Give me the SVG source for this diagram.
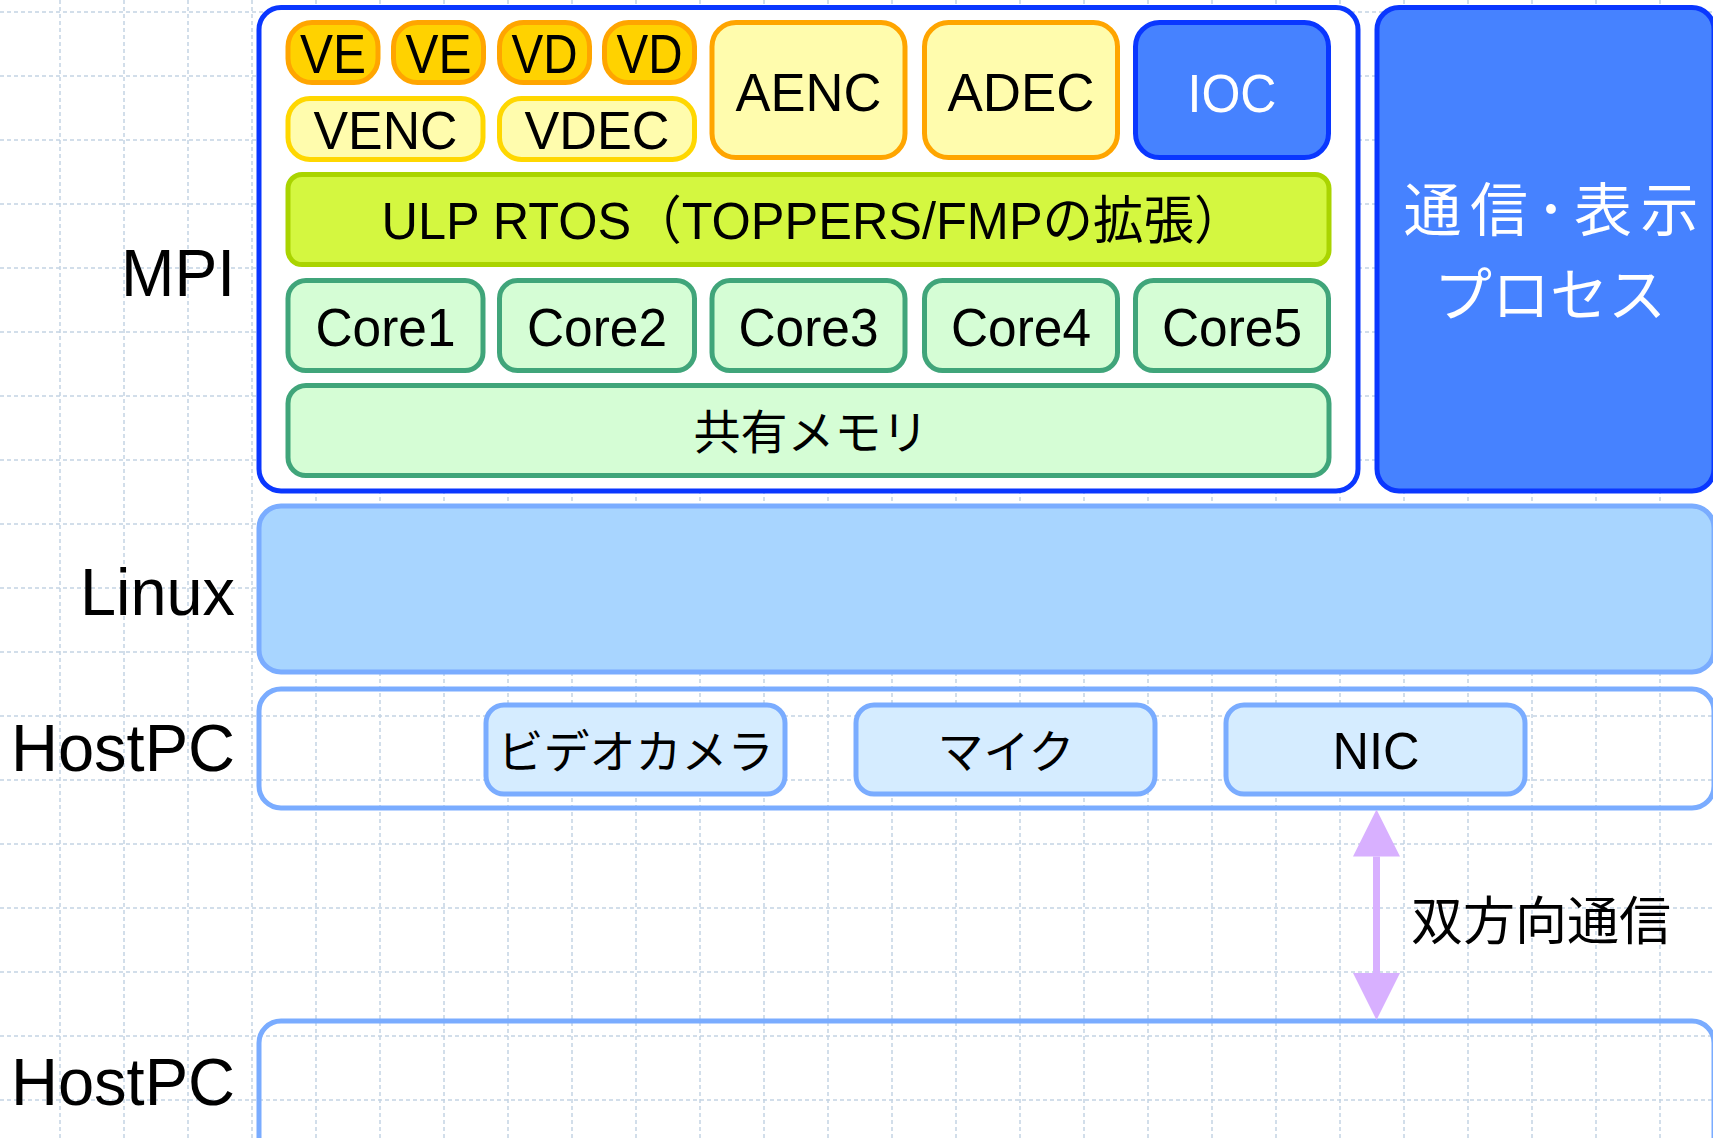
<svg xmlns="http://www.w3.org/2000/svg" width="1713" height="1138" viewBox="0 0 1713 1138">
<style>
.lat{font-family:"Liberation Sans",Arial,"Noto Sans CJK JP",sans-serif;fill:#000;text-anchor:middle}
.cjk{font-family:"Noto Sans CJK JP","Liberation Sans",sans-serif;fill:#000;text-anchor:middle}
.lbl{font-family:"Liberation Sans",Arial,sans-serif;font-size:66px;fill:#000;text-anchor:end}
.ve{fill:#ffd200;stroke:#ffa500;stroke-width:5}
.ly{fill:#fffcad;stroke:#ffd700;stroke-width:5}
.lo{fill:#fffcad;stroke:#ffa500;stroke-width:5}
.blue{fill:#4682ff;stroke:#0a37ff;stroke-width:5}
.ulp{fill:#d4f740;stroke:#aad400;stroke-width:5}
.core{fill:#d5fdd5;stroke:#40a57a;stroke-width:5}
.lb{fill:#d5ecff;stroke:#7aacff;stroke-width:5}
.lay{stroke:#7aacff;stroke-width:5}
</style>
<defs>
<marker id="ah" viewBox="0 0 47 47" refX="0" refY="23.5" markerWidth="47" markerHeight="47" markerUnits="userSpaceOnUse" orient="auto-start-reverse">
<path d="M0,0 L47,23.5 L0,47 z" fill="#d8b0ff"/>
</marker>
</defs>
<rect width="1713" height="1138" fill="#fff"/>
<g id="grid" fill="none" stroke="#c3d3e3" stroke-width="1.5" stroke-dasharray="4 3">
<path d="M60 0V1138M124 0V1138M188 0V1138M252 0V1138M316 0V1138M380 0V1138M444 0V1138M508 0V1138M572 0V1138M636 0V1138M700 0V1138M764 0V1138M828 0V1138M892 0V1138M956 0V1138M1020 0V1138M1084 0V1138M1148 0V1138M1212 0V1138M1276 0V1138M1340 0V1138M1404 0V1138M1468 0V1138M1532 0V1138M1596 0V1138M1660 0V1138"/>
<path d="M0 12H1713M0 76H1713M0 140H1713M0 204H1713M0 268H1713M0 332H1713M0 396H1713M0 460H1713M0 524H1713M0 588H1713M0 652H1713M0 716H1713M0 780H1713M0 844H1713M0 908H1713M0 972H1713M0 1036H1713M0 1100H1713"/>
</g>

<g id="labels">
<text class="lbl" x="235" y="296" textLength="114" lengthAdjust="spacingAndGlyphs">MPI</text>
<text class="lbl" x="235" y="615" textLength="155" lengthAdjust="spacingAndGlyphs">Linux</text>
<text class="lbl" x="235" y="771" textLength="224" lengthAdjust="spacingAndGlyphs">HostPC</text>
<text class="lbl" x="235" y="1105" textLength="224" lengthAdjust="spacingAndGlyphs">HostPC</text>
</g>

<g id="mpi">
<rect x="259" y="7.5" width="1099" height="483.5" rx="22" fill="#fff" stroke="#0a37ff" stroke-width="5"/>
</g>
<g id="proc">
<rect class="blue" x="1377" y="7.5" width="337" height="483.5" rx="22"/>
<text class="cjk" font-size="58" style="fill:#fff"><tspan x="1551" y="231" textLength="295" lengthAdjust="spacing">通信･表示</tspan><tspan x="1550" y="316">プロセス</tspan></text>
</g>

<g id="ve1"><rect class="ve" x="288" y="22.5" width="90" height="60" rx="24"/><text class="lat" x="333" y="73" font-size="55" textLength="66" lengthAdjust="spacingAndGlyphs">VE</text></g>
<g id="ve2"><rect class="ve" x="393.5" y="22.5" width="90" height="60" rx="24"/><text class="lat" x="438.5" y="73" font-size="55" textLength="66" lengthAdjust="spacingAndGlyphs">VE</text></g>
<g id="vd1"><rect class="ve" x="499.5" y="22.5" width="90" height="60" rx="24"/><text class="lat" x="544.5" y="73" font-size="55" textLength="66" lengthAdjust="spacingAndGlyphs">VD</text></g>
<g id="vd2"><rect class="ve" x="604.5" y="22.5" width="90" height="60" rx="24"/><text class="lat" x="649.5" y="73" font-size="55" textLength="66" lengthAdjust="spacingAndGlyphs">VD</text></g>

<g id="venc"><rect class="ly" x="288" y="98.5" width="195" height="61" rx="22"/><text class="lat" x="385.5" y="149" font-size="53" textLength="144" lengthAdjust="spacingAndGlyphs">VENC</text></g>
<g id="vdec"><rect class="ly" x="499.5" y="98.5" width="195" height="61" rx="22"/><text class="lat" x="597" y="149" font-size="53" textLength="145" lengthAdjust="spacingAndGlyphs">VDEC</text></g>

<g id="aenc"><rect class="lo" x="712" y="22.5" width="193" height="135" rx="24"/><text class="lat" x="808.5" y="111" font-size="53" textLength="146" lengthAdjust="spacingAndGlyphs">AENC</text></g>
<g id="adec"><rect class="lo" x="924.5" y="22.5" width="193" height="135" rx="24"/><text class="lat" x="1021" y="111" font-size="53" textLength="147" lengthAdjust="spacingAndGlyphs">ADEC</text></g>
<g id="ioc"><rect class="blue" x="1135.5" y="22.5" width="193" height="135" rx="24"/><text class="lat" x="1232" y="112" font-size="53" style="fill:#fff" textLength="89" lengthAdjust="spacingAndGlyphs">IOC</text></g>

<g id="ulp"><rect class="ulp" x="288" y="174.5" width="1041" height="90" rx="14"/><text class="lat" x="813" y="239" font-size="52" textLength="863" lengthAdjust="spacingAndGlyphs">ULP RTOS（TOPPERS/FMPの拡張）</text></g>

<g id="core1"><rect class="core" x="288" y="280.5" width="195" height="90" rx="18"/><text class="lat" x="385.5" y="346" font-size="53" textLength="140" lengthAdjust="spacingAndGlyphs">Core1</text></g>
<g id="core2"><rect class="core" x="499.5" y="280.5" width="195" height="90" rx="18"/><text class="lat" x="597" y="346" font-size="53" textLength="140" lengthAdjust="spacingAndGlyphs">Core2</text></g>
<g id="core3"><rect class="core" x="712" y="280.5" width="193" height="90" rx="18"/><text class="lat" x="808.5" y="346" font-size="53" textLength="140" lengthAdjust="spacingAndGlyphs">Core3</text></g>
<g id="core4"><rect class="core" x="924.5" y="280.5" width="193" height="90" rx="18"/><text class="lat" x="1021" y="346" font-size="53" textLength="140" lengthAdjust="spacingAndGlyphs">Core4</text></g>
<g id="core5"><rect class="core" x="1135.5" y="280.5" width="193" height="90" rx="18"/><text class="lat" x="1232" y="346" font-size="53" textLength="140" lengthAdjust="spacingAndGlyphs">Core5</text></g>

<g id="shm"><rect class="core" x="288" y="385.5" width="1041" height="90" rx="18"/><text class="cjk" x="811" y="449" font-size="47">共有メモリ</text></g>

<g id="linux"><rect x="259" y="506" width="1455" height="166" rx="22" fill="#a8d5ff" class="lay"/></g>

<g id="hostpc1"><rect x="259" y="689" width="1455" height="119" rx="22" fill="none" class="lay"/></g>
<g id="camera"><rect class="lb" x="486" y="705" width="299" height="89" rx="18"/><text class="cjk" x="635.5" y="768" font-size="46">ビデオカメラ</text></g>
<g id="mic"><rect class="lb" x="856" y="705" width="299" height="89" rx="18"/><text class="cjk" x="1006" y="768" font-size="46">マイク</text></g>
<g id="nic"><rect class="lb" x="1226" y="705" width="299" height="89" rx="18"/><text class="lat" x="1376" y="769" font-size="52" textLength="87" lengthAdjust="spacingAndGlyphs">NIC</text></g>

<g id="hostpc2"><rect x="259" y="1021" width="1455" height="200" rx="22" fill="none" class="lay"/></g>

<g id="connectors">
<line x1="1376.5" y1="856.5" x2="1376.5" y2="973" stroke="#d8b0ff" stroke-width="7" marker-start="url(#ah)" marker-end="url(#ah)"/>
<text class="cjk" x="1411" y="940" font-size="52" style="text-anchor:start">双方向通信</text>
</g>
</svg>
